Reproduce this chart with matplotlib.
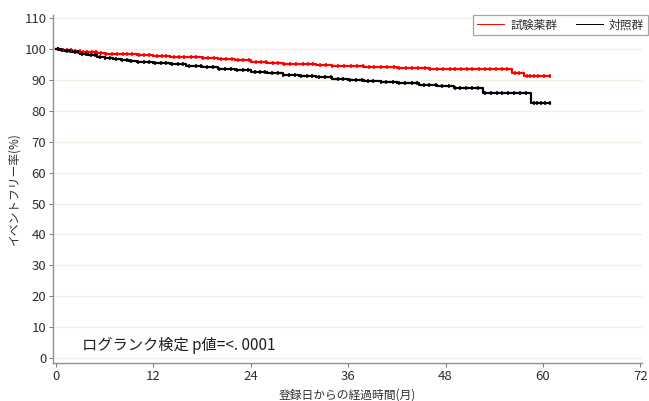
import matplotlib
matplotlib.use("Agg")
import matplotlib.pyplot as plt
from matplotlib.lines import Line2D

plt.rcParams['font.family'] = ['Liberation Sans Narrow', 'Noto Sans CJK JP', 'DejaVu Sans']

# Kaplan-Meier step curves: event times (months) and survival (%)
test_times = [0, 0.5, 1, 2, 3, 4, 5, 6, 8, 10, 12, 14, 16, 18, 20, 22, 24, 26, 28, 30,
              32, 34, 36, 38, 40, 42, 44, 46, 48, 56.2, 57.7, 60.8]
test_surv = [100, 99.8, 99.6, 99.4, 99.1, 98.9, 98.7, 98.5, 98.3, 98.0, 97.8, 97.5, 97.3,
             97.0, 96.7, 96.3, 95.9, 95.5, 95.3, 95.0, 94.8, 94.6, 94.5, 94.3, 94.1, 94.0,
             93.8, 93.6, 93.5, 92.3, 91.2, 91.2]

ctrl_times = [0, 0.5, 1, 2, 3, 4, 5, 6, 7, 8, 9, 10, 12, 14, 16, 18, 20, 22, 24, 26, 28,
              30, 32, 34, 36, 38, 40, 42, 44.7, 47, 49, 52.6, 58.5, 60.8]
ctrl_surv = [100, 99.7, 99.4, 98.9, 98.4, 97.9, 97.5, 97.1, 96.8, 96.5, 96.2, 95.9, 95.5,
             95.1, 94.6, 94.1, 93.6, 93.1, 92.6, 92.1, 91.6, 91.2, 90.8, 90.3, 89.9, 89.6,
             89.3, 89.1, 88.5, 88.0, 87.4, 85.8, 82.5, 82.5]

# Censoring times (months)
test_cens = [0.3, 0.9, 1.4, 1.8, 2.4, 2.9, 3.3, 3.8, 4.4, 4.9, 5.6, 6.2, 6.9, 7.5, 8.3,
             8.8, 9.4, 10.2, 10.9, 11.5, 12.4, 13.1, 13.6, 14.5, 15.2, 15.8, 16.6, 17.3,
             18.1, 18.7, 19.5, 20.3, 20.9, 21.7, 22.4, 23.1, 23.8, 24.6, 25.2, 25.9,
             26.7, 27.4, 28.1, 28.8, 29.6, 30.4, 31.1, 31.7, 32.5, 33.3, 34.0, 34.8,
             35.5, 36.3, 37.1, 37.8, 38.6, 39.2, 40.1, 40.8, 41.6, 42.3, 43.1, 43.9,
             44.6, 45.4, 46.1, 46.9, 47.7, 48.5, 49.2, 49.9, 50.6, 51.3, 52.1, 52.8,
             53.5, 54.2, 54.9, 55.6, 56.5, 57.1, 58.0, 58.4, 58.9, 59.4, 60.1, 60.8]
ctrl_cens = [0.2, 0.7, 1.3, 1.7, 2.3, 2.7, 3.2, 3.7, 4.3, 4.8, 5.4, 6.1, 6.7, 7.4, 8.1,
             8.7, 9.3, 10.1, 10.8, 11.4, 12.2, 12.9, 13.5, 14.3, 15.0, 15.7, 16.4, 17.2,
             17.9, 18.6, 19.4, 20.1, 20.8, 21.6, 22.3, 23.0, 23.7, 24.5, 25.1, 25.8,
             26.6, 27.3, 28.0, 28.7, 29.5, 30.2, 30.9, 31.6, 32.4, 33.2, 33.9, 34.7,
             35.4, 36.2, 37.0, 37.7, 38.5, 39.1, 40.0, 40.7, 41.5, 42.2, 43.0, 43.8,
             44.5, 45.3, 46.0, 46.8, 47.6, 48.4, 49.1, 49.8, 50.5, 51.2, 52.0, 52.9,
             53.6, 54.3, 55.0, 55.7, 56.4, 57.2, 57.9, 58.9, 59.3, 59.8, 60.3, 60.8]

group_labels = ['試験薬群', '対照群']
group_colors = ['#ff0000', '#000000']
x_ticks = [0, 12, 24, 36, 48, 60, 72]
y_ticks = list(range(0, 111, 10))


def surv_at(times, surv, t):
    val = surv[0]
    for ti, si in zip(times, surv):
        if ti <= t:
            val = si
        else:
            break
    return val


fig = plt.figure(figsize=(6.49, 4.01), dpi=100)
ax = fig.add_axes([0.0821, 0.0948, 0.9072, 0.8678])

for y in y_ticks:
    ax.axhline(y, color='#f3eee2', lw=0.9, zorder=0)

for times, surv, cens, col in [(test_times, test_surv, test_cens, group_colors[0]),
                               (ctrl_times, ctrl_surv, ctrl_cens, group_colors[1])]:
    ax.step(times, surv, where='post', color=col, lw=1.6, zorder=3)
    cy = [surv_at(times, surv, c) for c in cens]
    ax.plot(cens, cy, ls='none', marker='|', ms=3.5, mew=1.1, color=col, zorder=4)

ax.set_xlim(-0.33, 72.2)
ax.set_ylim(-1.6, 111)
ax.set_xticks(x_ticks)
ax.set_yticks(y_ticks)
ax.tick_params(axis='both', colors='#808080', labelcolor='#303030', labelsize=9.5,
               length=3, width=0.8, pad=2)

for s in ['top', 'right']:
    ax.spines[s].set_visible(False)
for s in ['left', 'bottom']:
    ax.spines[s].set_color('#909090')
    ax.spines[s].set_linewidth(1.0)

ax.set_xlabel('登録日からの経過時間(月)', fontsize=8.5, color='#303030', labelpad=4)
ax.set_ylabel('イベントフリー率(%)', fontsize=8.5, color='#303030', labelpad=3)

ax.text(3.2, 4.0, 'ログランク検定 p値=<. 0001', fontsize=11, color='#202020',
        va='center', ha='left')

handles = [Line2D([0], [0], color=c, lw=0.7) for c in group_colors]
leg = ax.legend(handles, group_labels, loc='upper right', bbox_to_anchor=(1.0098, 1.0),
                ncol=2, fontsize=8.5, frameon=True, fancybox=False, borderpad=0.3,
                handlelength=2.3, columnspacing=1.6, handletextpad=0.5,
                borderaxespad=0.0)
leg.get_frame().set_edgecolor('#909090')
leg.get_frame().set_linewidth(0.9)
for t in leg.get_texts():
    t.set_color('#303030')

fig.savefig('out.png', dpi=100, facecolor='white')
